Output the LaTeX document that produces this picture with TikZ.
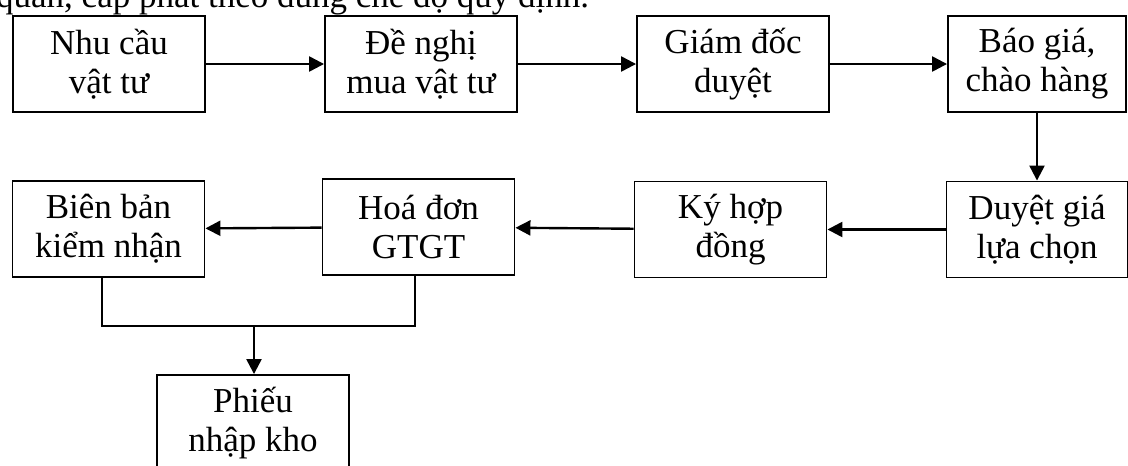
\documentclass[tikz,border=0pt]{standalone}
\usepackage{fontspec}
\setmainfont{Liberation Serif}
\usetikzlibrary{arrows.meta}
\begin{document}
\begin{tikzpicture}[x=1pt,y=-1pt,
  box/.style={draw, line width=1.9pt, minimum width=192pt, minimum height=96pt, inner sep=0pt, align=center, font=\fontsize{35}{39}\selectfont},
  arr/.style={line width=2.4pt, -{Triangle[length=15pt,width=15pt]}},
  ln/.style={line width=1.7pt},
  txt/.style={inner sep=0pt, font=\fontsize{35}{39}\selectfont}]
\useasboundingbox (0,0) rectangle (1128,466);
\clip (0,0) rectangle (1128,466);
\node[txt, anchor=base west] (top) at (-4,7) {quản, cấp phát theo đúng chế độ quy định.};
\node[box] (b1) at (109,64) {Nhu cầu\\vật tư};
\node[box] (b2) at (421,64) {Đề nghị\\mua vật tư};
\node[box] (b3) at (733,64) {Giám đốc\\duyệt};
\node[box, minimum width=178pt] (b4) at (1037,64) {Báo giá,\\chào hàng};
\node[box, minimum width=181pt] (b5) at (1037,229.5) {Duyệt giá\\lựa chọn};
\node[box] (b6) at (730.5,229.5) {Ký hợp\\đồng};
\node[box] (b7) at (418.5,227) {Hoá đơn\\GTGT};
\node[box] (b8) at (108.5,229) {Biên bản\\kiểm nhận};
\node[box] (b9) at (253,423) {Phiếu\\nhập kho};
\coordinate (j) at (254,326);
\draw[arr] (b1) -- (b2);
\draw[arr] (b2) -- (b3);
\draw[arr] (b3) -- (b4);
\draw[arr] (b4) -- (b5);
\draw[arr] (b5) -- (b6);
\draw[arr] (b6) -- (b7);
\draw[arr] (b7) -- (b8);
\draw[ln] ([xshift=-6.5pt]b8.south) |- (j) -| ([xshift=-3.5pt]b7.south);
\draw[arr] (j) -- (j |- b9.north);
\end{tikzpicture}
\end{document}
